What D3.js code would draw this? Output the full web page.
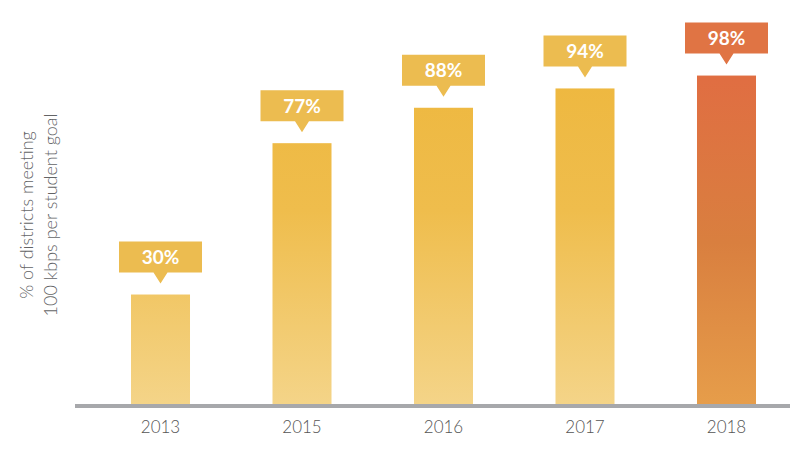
<!DOCTYPE html>
<html>
<head>
<meta charset="utf-8">
<script src="https://cdn.jsdelivr.net/npm/d3@7"></script>
<style>
  body { margin: 0; background: #fff; }
  svg { display: block; font-family: Lato, "Open Sans", sans-serif; }
</style>
</head>
<body>
<div id="chart"></div>
<script>
const years = ["2013", "2015", "2016", "2017", "2018"];
const values = [30, 77, 88, 94, 98];
const highlight = ["2018"];
const titleLines = ["% of districts meeting", "100 kbps per student goal"];

const width = 809, height = 455;
const baseY = 404;

const svg = d3.select("#chart").append("svg")
    .attr("width", width)
    .attr("height", height);

const defs = svg.append("defs");
function grad(id, stops) {
    const g = defs.append("linearGradient")
        .attr("id", id)
        .attr("gradientUnits", "userSpaceOnUse")
        .attr("x1", 0).attr("x2", 0)
        .attr("y1", 80).attr("y2", baseY);
    stops.forEach(s => g.append("stop").attr("offset", s[0]).attr("stop-color", s[1]));
}
grad("gYellow", [[0, "#eeb840"], [0.4, "#efbd4c"], [1, "#f4d488"]]);
grad("gOrange", [[0, "#e06e42"], [0.5, "#d97f3f"], [1, "#e69d4a"]]);

const x = d3.scaleBand()
    .domain(years)
    .range([89.75, 797.25])
    .paddingInner(0.583)
    .paddingOuter(0.2915);

// bars in the source are not exactly proportional; a slightly offset linear scale fits best
const y = d3.scaleLinear()
    .domain([-4, 100])
    .range([baseY, baseY - 3.22 * 104]);

const data = years.map((yr, i) => ({ year: yr, value: values[i], hot: highlight.includes(yr) }));

// bars
svg.append("g")
    .selectAll("rect")
    .data(data)
    .join("rect")
    .attr("x", d => x(d.year))
    .attr("width", x.bandwidth())
    .attr("y", d => y(d.value))
    .attr("height", d => baseY - y(d.value))
    .attr("fill", d => d.hot ? "url(#gOrange)" : "url(#gYellow)");

// baseline
svg.append("rect")
    .attr("x", 75)
    .attr("y", baseY)
    .attr("width", 715)
    .attr("height", 4)
    .attr("fill", "#a7a8ab");

// value callouts
const boxW = 83, boxH = 31, tipH = 11, tipW = 14, gap = 11;
const label = svg.append("g")
    .selectAll("g")
    .data(data)
    .join("g")
    .attr("transform", d => `translate(${x(d.year) + x.bandwidth() / 2},${y(d.value) - gap - tipH - boxH})`);

label.append("path")
    .attr("d", `M${-boxW / 2},0H${boxW / 2}V${boxH}H${tipW / 2}L0,${boxH + tipH}L${-tipW / 2},${boxH}H${-boxW / 2}Z`)
    .attr("fill", d => d.hot ? "#e07444" : "#ecbc50");

label.append("text")
    .attr("x", 0)
    .attr("y", boxH / 2 + 7)
    .attr("text-anchor", "middle")
    .attr("fill", "#fff")
    .style("font-size", "19px")
    .style("font-weight", "700")
    .text(d => d.value + "%");

// x axis labels
const xAxis = svg.append("g")
    .attr("transform", `translate(0,${baseY + 4})`)
    .call(d3.axisBottom(x).tickSize(0).tickPadding(13));
xAxis.select(".domain").remove();
xAxis.selectAll("text")
    .attr("fill", "#555")
    .style("font-size", "17px")
    .style("font-family", "Lato, sans-serif")
    .style("font-weight", "300");

// y title
svg.append("text")
    .attr("transform", "translate(33,215) rotate(-90)")
    .attr("text-anchor", "middle")
    .attr("fill", "#636466")
    .style("font-size", "18px")
    .style("font-weight", "300")
    .selectAll("tspan")
    .data(titleLines)
    .join("tspan")
    .attr("x", 0)
    .attr("dy", (d, i) => i === 0 ? 0 : 24)
    .text(d => d);
</script>
</body>
</html>
